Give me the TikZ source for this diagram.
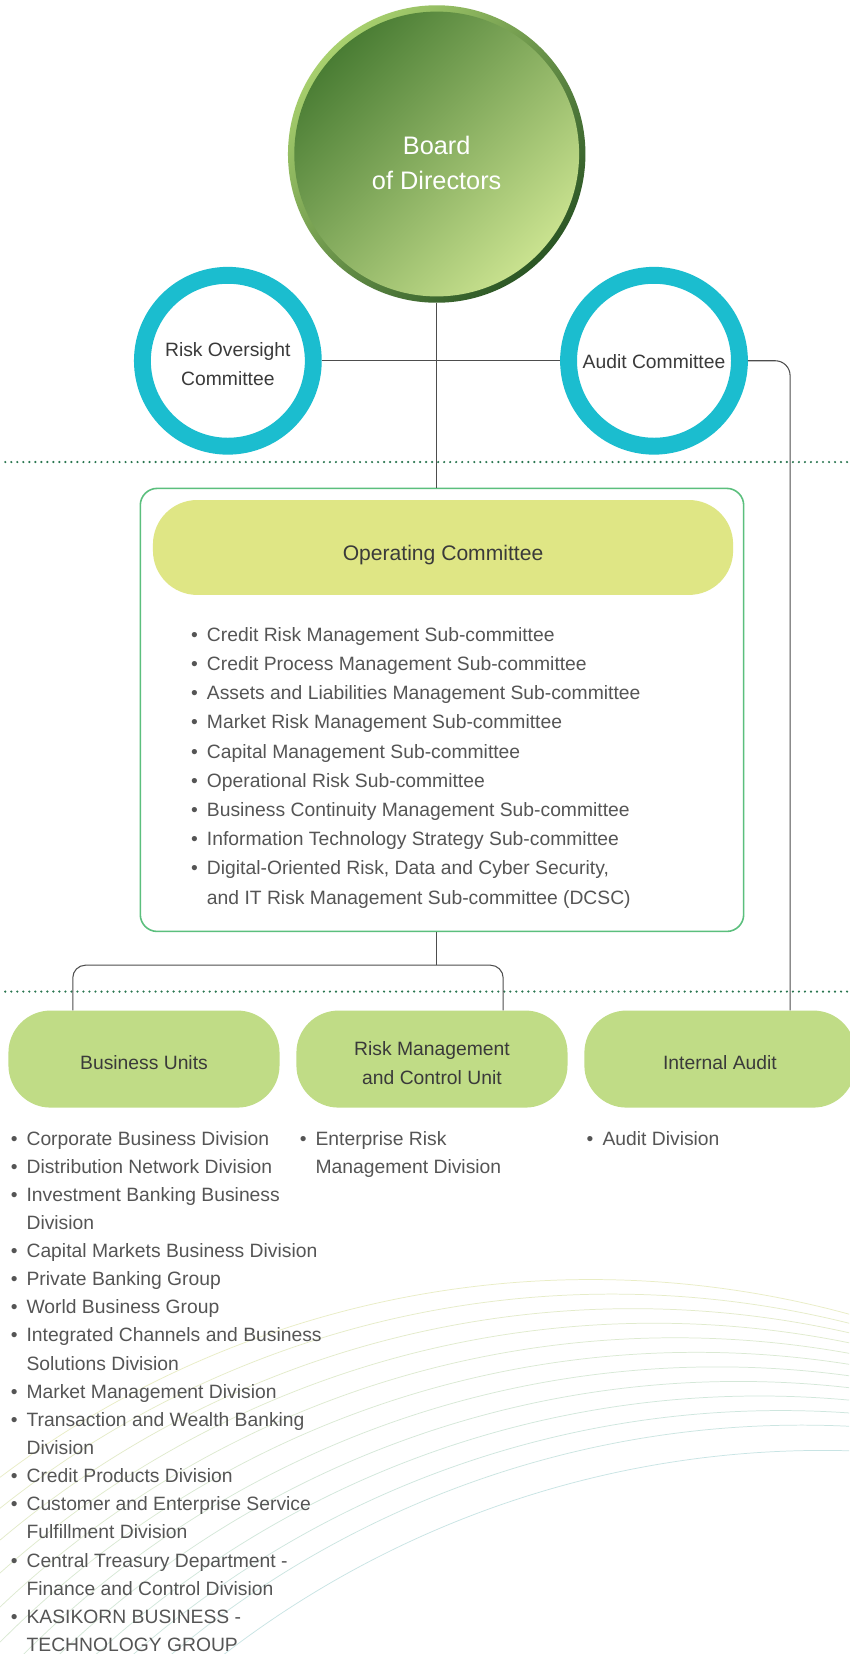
\documentclass[tikz,border=0pt]{standalone}
\usepackage{fontspec}
\setmainfont{Liberation Sans}
\usetikzlibrary{calc}
\definecolor{cyanring}{HTML}{1BBDCF}
\definecolor{oppillc}{HTML}{DFE685}
\definecolor{unitpillc}{HTML}{C0DC86}
\definecolor{opborder}{HTML}{5BBF7D}
\definecolor{dotgreen}{HTML}{2A7650}
\definecolor{connc}{HTML}{4D4D4D}
\definecolor{labeltext}{HTML}{3A3A3A}
\definecolor{listtext}{HTML}{555555}
\definecolor{decoA}{HTML}{E9EDC5}
\definecolor{decoB}{HTML}{C8E4E4}
\definecolor{ringlight}{HTML}{A8D06E}
\definecolor{ringdark}{HTML}{2B5625}
\definecolor{bodA}{HTML}{4A7D34}
\definecolor{bodM}{HTML}{9CC769}
\definecolor{bodB}{HTML}{C9E28F}
\newcommand\myitem[1]{\makebox[15pt][l]{\textbullet}#1}
\newcommand\mycont[1]{\hspace*{15pt}#1}
\begin{document}
\begin{tikzpicture}[x=1pt,y=-1pt,
  conn/.style={draw=connc, line width=1pt},
  dotline/.style={draw=dotgreen, line width=2.3pt, line cap=round, dash pattern=on 0pt off 5.7pt},
  ringnode/.style={circle, draw=cyanring, line width=16pt, minimum size=162pt, inner sep=0pt},
  unitpill/.style={fill=unitpillc, rounded corners=40pt, minimum width=257pt, minimum height=92pt, inner sep=0pt},
  lbl/.style={inner sep=0pt, text=labeltext, font=\fontsize{18.3}{27.5}\selectfont, align=center},
  listtxt/.style={anchor=base west, inner sep=0pt, text=listtext, font=\fontsize{18.3}{26}\selectfont}
]
\useasboundingbox (0,0) rectangle (805,1568);
\fill[white] (0,0) rectangle (805,1568);

% decorative curves
\begin{scope}
\clip (0,0) rectangle (805,1568);
\foreach \k in {0,...,11} {
  \pgfmathsetmacro\px{560+20*\k}
  \pgfmathsetmacro\py{\k<11 ? 1213+13.8*\k : 1375}
  \pgfmathtruncatemacro\pc{\k*9}
  \draw[decoB!\pc!decoA, line width=0.7pt] plot[domain=0:805, samples=90, smooth]
    (\x, {\py + 930 - 100*sqrt(86.49 - ((\x-\px)/100)^2)});
}
\end{scope}

% dotted separators
\draw[dotline] (5,438) -- (805,438);
\draw[dotline] (5,940) -- (805,940);

% Board of Directors
\shade[shading=axis, top color=ringlight, bottom color=ringdark, shading angle=45] (414,146) circle[radius=141];
\shade[shading=axis, top color=bodA, middle color=bodM, bottom color=bodB, shading angle=45] (414,146) circle[radius=135];
\node[circle, minimum size=282pt, inner sep=0pt, outer sep=0pt] (bod) at (414,146) {};
\node[lbl, text=white, font=\fontsize{24}{33}\selectfont] (bodlbl) at (414,154.5) {Board\\of Directors};

% committees
\node[ringnode] (roc) at (216,342) {};
\node[lbl] (roclbl) at (216,345.5) {Risk Oversight\\Committee};
\node[ringnode] (audit) at (620,342) {};
\node[lbl] (auditlbl) at (620,343) {Audit Committee};

% Operating committee box
\node[draw=opborder, line width=1.5pt, rounded corners=16pt, minimum width=572pt, minimum height=420pt, inner sep=0pt] (opbox) at (419,673) {};
\node[fill=oppillc, rounded corners=42pt, minimum width=550pt, minimum height=90pt, inner sep=0pt] (oppill) at (420,519) {};
\node[lbl, font=\fontsize{20}{24}\selectfont] (oplbl) at (420,526) {Operating Committee};
\foreach \t [count=\i from 0] in {
  {\myitem{Credit Risk Management Sub-committee}},
  {\myitem{Credit Process Management Sub-committee}},
  {\myitem{Assets and Liabilities Management Sub-committee}},
  {\myitem{Market Risk Management Sub-committee}},
  {\myitem{Capital Management Sub-committee}},
  {\myitem{Operational Risk Sub-committee}},
  {\myitem{Business Continuity Management Sub-committee}},
  {\myitem{Information Technology Strategy Sub-committee}},
  {\myitem{Digital-Oriented Risk, Data and Cyber Security,}},
  {\mycont{and IT Risk Management Sub-committee (DCSC)}}}
  \node[listtxt] (opl\i) at (181,{608+\i*27.67}) {\t};

% units
\node[unitpill] (bu) at (136.5,1004) {};
\node[lbl] (bulbl) at (136.5,1007) {Business Units};
\node[unitpill] (rm) at (409.5,1004) {};
\node[lbl] (rmlbl) at (409.5,1007.5) {Risk Management\\and Control Unit};
\node[unitpill] (ia) at (682.5,1004) {};
\node[lbl] (ialbl) at (682.5,1007) {Internal Audit};

\foreach \t [count=\i from 0] in {
  {\myitem{Corporate Business Division}},
  {\myitem{Distribution Network Division}},
  {\myitem{Investment Banking Business}},
  {\mycont{Division}},
  {\myitem{Capital Markets Business Division}},
  {\myitem{Private Banking Group}},
  {\myitem{World Business Group}},
  {\myitem{Integrated Channels and Business}},
  {\mycont{Solutions Division}},
  {\myitem{Market Management Division}},
  {\myitem{Transaction and Wealth Banking}},
  {\mycont{Division}},
  {\myitem{Credit Products Division}},
  {\myitem{Customer and Enterprise Service}},
  {\mycont{Fulfillment Division}},
  {\myitem{Central Treasury Department -}},
  {\mycont{Finance and Control Division}},
  {\myitem{KASIKORN BUSINESS -}},
  {\mycont{TECHNOLOGY GROUP}}}
  \node[listtxt] (bul\i) at (10,{1085.5+\i*26.67}) {\t};
\node[listtxt] (rml0) at (284,1085.5) {\myitem{Enterprise Risk}};
\node[listtxt] (rml1) at (284,1112.2) {\mycont{Management Division}};
\node[listtxt] (ial0) at (556,1085.5) {\myitem{Audit Division}};

% connectors
\draw[conn] (bod.south) -- (bod.south |- opbox.north);
\draw[conn] (roc.east) -- (audit.west);
\draw[conn, rounded corners=14pt] (audit.east) -| ([xshift=66.5pt]ia.north);
\coordinate (br) at (414,915);
\draw[conn] (bod.south |- opbox.south) -- (br);
\draw[conn, rounded corners=12pt] ([xshift=-67.5pt]bu.north) |- (br) -| ([xshift=67.5pt]rm.north);
\end{tikzpicture}
\end{document}
